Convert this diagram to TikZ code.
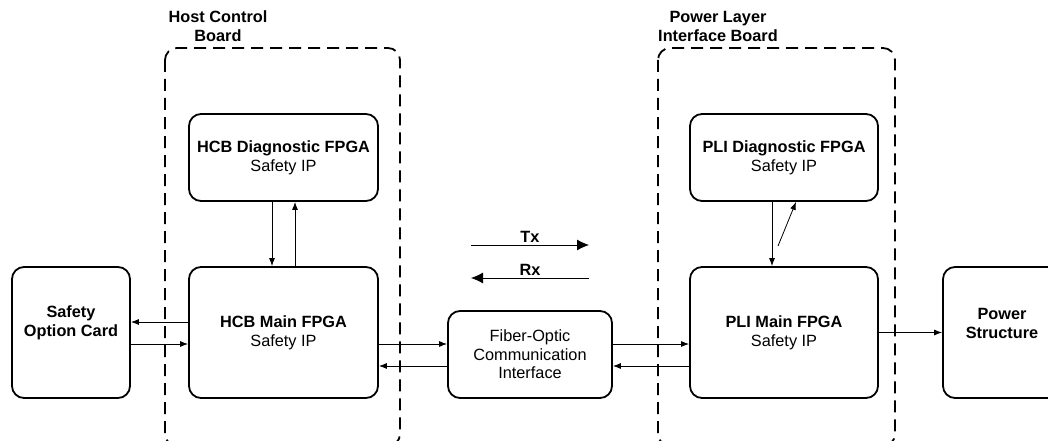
\documentclass[tikz,border=0pt]{standalone}
\usepackage{fontspec}
\setmainfont{Liberation Sans}
\usetikzlibrary{arrows.meta,positioning,calc}

\tikzset{
  box/.style={draw, line width=1.8pt, rounded corners=12pt, align=center, inner sep=2pt},
  board/.style={draw, line width=1.8pt, rounded corners=12pt, dash pattern=on 12pt off 7pt},
  conn/.style={line width=0.8pt, -{Latex[length=8pt,width=6pt]}},
  big/.style={line width=0.8pt, -{Latex[length=12pt,width=11pt]}},
}

\begin{document}
\begin{tikzpicture}[x=1pt,y=-1pt,font=\fontsize{16.3}{19}\selectfont]
\useasboundingbox (0,0) rectangle (1048,441);

% boards
\draw[board] (165,48) rectangle (400,446);
\draw[board] (658,48) rectangle (895,446);
\node[align=center, font=\fontsize{16.3}{19}\selectfont\bfseries] (hcblabel) at (218,26.5) {Host Control\\Board};
\node[align=center, font=\fontsize{16.3}{19}\selectfont\bfseries] (plilabel) at (718,26.5) {Power Layer\\Interface Board};

% blocks
\node[box, minimum width=189pt, minimum height=87pt] (hcbdiag) at (283.5,157.5) {\textbf{HCB Diagnostic FPGA}\\Safety IP};
\node[box, minimum width=189pt, minimum height=131pt] (hcbmain) at (283.5,332.5) {\textbf{HCB Main FPGA}\\Safety IP};
\node[box, minimum width=188pt, minimum height=87pt] (plidiag) at (784,157.5) {\textbf{PLI Diagnostic FPGA}\\Safety IP};
\node[box, minimum width=188pt, minimum height=131pt] (plimain) at (784,332.5) {\textbf{PLI Main FPGA}\\Safety IP};
\node[box, minimum width=164pt, minimum height=87pt, font=\fontsize{16.3}{18.5}\selectfont] (fo) at (530,354.5) {Fiber-Optic\\Communication\\Interface};
\node[box, minimum width=118pt, minimum height=131pt] (soc) at (71,332.5) {};
\node[box, minimum width=118pt, minimum height=131pt] (ps) at (1002,332.5) {};
\node[align=center, font=\fontsize{16.3}{19}\selectfont\bfseries] (soctext) at ([yshift=9.5pt]soc.center) {Safety\\Option Card};
\node[align=center, font=\fontsize{16.3}{19}\selectfont\bfseries] (pstext) at ([yshift=9.5pt]ps.center) {Power\\Structure};

% diag <-> main
\draw[conn] ([xshift=-11.5pt]hcbdiag.south) -- ([xshift=-11.5pt]hcbmain.north);
\draw[conn] ([xshift=11.5pt]hcbmain.north) -- ([xshift=11.5pt]hcbdiag.south);
\draw[conn] ([xshift=-12pt]plidiag.south) -- ([xshift=-12pt]plimain.north);
\coordinate (plifrom) at (778,246);
\draw[conn] (plifrom) -- ([xshift=12pt]plidiag.south);

% safety option card
\draw[conn] ([yshift=10.5pt]hcbmain.west) -- ([yshift=10.5pt]soc.east);
\draw[conn] ([yshift=-11.5pt]soc.east) -- ([yshift=-11.5pt]hcbmain.west);

% fiber link
\draw[conn] ([yshift=-11.5pt]hcbmain.east) -- ([yshift=-11.5pt]hcbmain.east -| fo.west);
\draw[conn] ([yshift=-33.5pt]hcbmain.east -| fo.west) -- ([yshift=-33.5pt]hcbmain.east);
\draw[conn] ([yshift=-11.5pt]plimain.west -| fo.east) -- ([yshift=-11.5pt]plimain.west);
\draw[conn] ([yshift=-33.5pt]plimain.west) -- ([yshift=-33.5pt]plimain.west -| fo.east);

% power structure
\draw[conn] (plimain) -- (ps);

% Tx / Rx
\coordinate (txa) at (471,245);
\coordinate (txb) at (589,245);
\coordinate (rxa) at (589,278);
\coordinate (rxb) at (471,278);
\draw[big] (txa) -- (txb) node[midway, above=-1pt, font=\fontsize{16.3}{19}\selectfont\bfseries] {Tx};
\draw[big] (rxa) -- (rxb) node[midway, above=-1pt, font=\fontsize{16.3}{19}\selectfont\bfseries] {Rx};

\end{tikzpicture}
\end{document}
